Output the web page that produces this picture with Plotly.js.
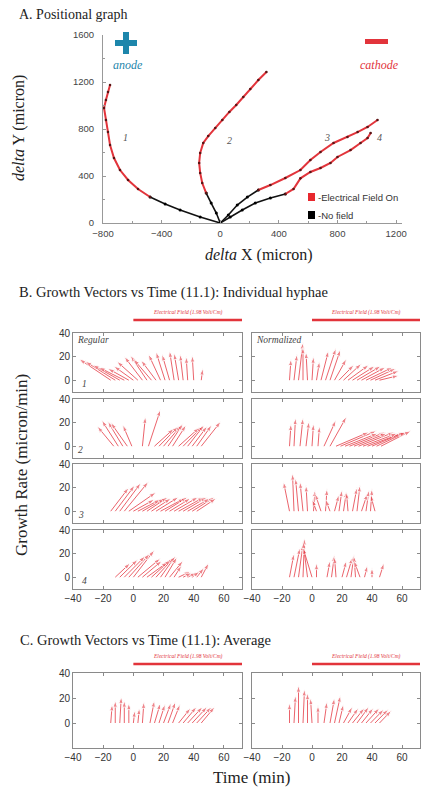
<!DOCTYPE html>
<html><head><meta charset="utf-8">
<script src="https://cdn.plot.ly/plotly-3.0.1.min.js"></script>
<style>html,body{margin:0;padding:0;background:#fff}#plot{width:422px;height:791px}</style>
</head><body><div id="plot"></div>
<script>
// ---------- Panel A: trajectories (micron) ----------
const line1X = [0,-137,-274,-376,-479,-561,-629,-684,-725,-752,-766,-780,-793,-780,-766,-752];
const line1Y = [0,51,111,162,221,289,366,451,553,664,774,877,979,1047,1115,1174];
const line1FieldStart = 4;
const line2X = [0,-27,-62,-96,-123,-137,-144,-137,-116,-82,-34,14,62,109,157,205,260,315];
const line2Y = [0,85,170,255,340,426,511,596,681,740,809,877,945,1004,1072,1140,1217,1285];
const line2FieldStart = 3;
const line3X = [0,55,116,185,260,342,444,547,615,684,773,868,937,1005,1073];
const line3Y = [0,68,153,221,281,323,383,451,536,604,681,732,774,817,877];
const line3FieldStart = 4;
const line4X = [0,68,150,239,342,444,500,547,615,684,752,800,889,957,1005,1026];
const line4Y = [0,51,111,170,213,247,290,380,434,468,511,562,621,681,723,766];
const line4FieldStart = 5;

// ---------- Panel B: growth vectors (time min, dx, dy micron/min) ----------
const r1RegT = [-15,-12,-9,-6,-3,0,3,6,9,12,15,18,21,24,27,30,33,36,40,45];
const r1RegU = [-21,-20,-18,-17,-14,-13,-14,-12,-11,-12,-10,-8,-6,-5,-3,-3,-2,-1,-1,1];
const r1RegV = [18,16,13,11,10,12,16,20,21,18,17,22,24,22,25,23,22,20,21,10];
const r1NorT = [-15,-12,-9,-6,-3,0,3,6,9,12,15,18,21,24,27,30,33,36,39,42,45];
const r1NorU = [1,2,3,0,-1,1,2,5,7,7,8,10,12,14,15,16,16,18,17,16,13];
const r1NorV = [18,22,32,28,24,20,16,25,27,26,18,13,14,13,12,12,11,11,10,8,4];

const r2RegT = [-13,-10,-7,-4,-1,6,10,14,17,20,23,26,30,33,36,39,42,45];
const r2RegU = [-11,-11,-10,-11,-6,2,8,13,13,12,10,9,14,13,11,10,10,13];
const r2RegV = [17,22,21,20,18,25,31,15,17,18,19,18,16,17,18,17,18,21];
const r2NorT = [-15,-12,-8,-4,0,4,8,12,16,19,22,25,28,31,34,37,40,43,46];
const r2NorU = [1,1,2,2,1,1,8,11,22,24,22,24,22,24,23,25,22,20,20];
const r2NorV = [19,24,24,21,19,17,22,25,12,13,11,12,11,12,11,12,12,12,13];

const r3RegT = [-15,-12,-9,-6,-3,0,3,6,9,12,15,18,21,24,27,30,33,36,39,42];
const r3RegU = [12,13,14,16,18,14,15,15,14,13,15,16,15,14,16,17,16,15,15,13];
const r3RegV = [20,22,24,25,16,10,10,11,12,11,12,11,12,11,12,12,12,11,12,11];
const r3NorT = [-15,-12,-9,-6,-3,1,3,6,9,12,15,18,21,24,27,30,33,36,39,42];
const r3NorU = [-4,-1,-2,-2,-1,1,-3,-4,1,-3,3,2,2,-1,3,2,4,2,1,-3];
const r3NorV = [25,32,28,25,22,18,10,15,19,10,14,18,17,16,20,22,15,18,19,14];

const r4RegT = [-12,-9,-6,-3,0,3,6,9,12,15,18,21,24,27,30,33,36,39,42,45];
const r4RegU = [10,12,14,14,14,15,13,14,13,12,10,8,9,5,8,6,6,5,5,5];
const r4RegV = [12,15,18,20,23,16,14,13,15,17,18,17,14,10,5,4,4,5,8,12];
const r4NorT = [-15,-12,-9,-6,-3,0,3,10,13,16,20,23,26,29,32,35,40,45];
const r4NorU = [3,4,3,1,-3,-6,0,2,2,-1,3,4,2,-1,-4,2,0,3];
const r4NorV = [20,25,28,33,30,25,12,14,19,17,14,17,19,18,14,10,8,12];

// ---------- Panel C: average growth vectors ----------
const avgRegT = [-15,-12,-9,-6,-3,0,3,6,11,14,17,20,23,26,30,33,36,39,42,45];
const avgRegU = [1,0,1,0,0,1,1,1,3,4,4,5,5,5,8,9,10,10,10,9];
const avgRegV = [15,18,21,18,16,10,12,17,18,16,15,16,17,15,12,13,13,13,13,13];
const avgNorT = [-15,-12,-9,-6,-3,0,4,8,12,15,18,21,24,27,30,33,36,39,42,45];
const avgNorU = [0,1,0,1,0,-1,0,2,3,4,3,6,7,8,8,8,9,9,9,8];
const avgNorV = [16,22,30,27,24,20,14,17,20,22,15,13,12,12,13,12,12,11,11,10];

const timeTicks = [-40,-20,0,20,40,60];
const rateTicks = [0,20,40];
const fieldStart = 0;
const fieldEnd = 72;

// ---------- helpers ----------
const W = 422, H = 791;
const fx = p => p / W, fy = p => 1 - p / H;
const RED = '#e2343b', BLUE = '#1d86ab';
const ARROW = 'rgba(228,50,60,0.85)';
const SERIF = 'Liberation Serif, Times New Roman, serif';
const SANS = 'Liberation Sans, Arial, sans-serif';

const traces = [];
function addLine(X, Y, split) {
  traces.push({type:'scatter', mode:'lines+markers', x:X.slice(0, split+1), y:Y.slice(0, split+1),
    xaxis:'x', yaxis:'y', line:{color:'#111', width:1.6}, marker:{color:'#000', size:3},
    showlegend:false, hoverinfo:'skip'});
  traces.push({type:'scatter', mode:'lines+markers', x:X.slice(split), y:Y.slice(split),
    xaxis:'x', yaxis:'y', line:{color:RED, width:2}, marker:{color:'#5a1414', size:2.6},
    showlegend:false, hoverinfo:'skip'});
}
addLine(line1X, line1Y, line1FieldStart);
addLine(line2X, line2Y, line2FieldStart);
addLine(line3X, line3Y, line3FieldStart);
addLine(line4X, line4Y, line4FieldStart);

function addArrows(T, U, V, n) {
  const x = [], y = [], size = [];
  for (let i = 0; i < T.length; i++) {
    x.push(T[i], T[i] + U[i], null);
    y.push(0, V[i], null);
    size.push(0, 7, 0);
  }
  traces.push({type:'scatter', mode:'lines+markers', x, y, xaxis:'x'+n, yaxis:'y'+n,
    line:{color:ARROW, width:0.9}, connectgaps:false,
    marker:{symbol:'arrow', angleref:'previous', size, color:ARROW},
    showlegend:false, hoverinfo:'skip'});
}
const panels = [
  [r1RegT,r1RegU,r1RegV],[r1NorT,r1NorU,r1NorV],
  [r2RegT,r2RegU,r2RegV],[r2NorT,r2NorU,r2NorV],
  [r3RegT,r3RegU,r3RegV],[r3NorT,r3NorU,r3NorV],
  [r4RegT,r4RegU,r4RegV],[r4NorT,r4NorU,r4NorV],
  [avgRegT,avgRegU,avgRegV],[avgNorT,avgNorU,avgNorV]
];
panels.forEach((p, k) => addArrows(p[0], p[1], p[2], k + 2));

const layout = {
  width: W, height: H, margin:{l:0,r:0,t:0,b:0},
  paper_bgcolor:'#fff', plot_bgcolor:'#fff', showlegend:false,
  font:{family:SANS, color:'#333'},
  xaxis:{domain:[fx(103), fx(402)], anchor:'y', range:[-800,1240], tickmode:'linear', tick0:-800, dtick:400,
    showline:true, linecolor:'#999', linewidth:1, ticks:'inside', ticklen:3, tickcolor:'#999',
    minor:{dtick:200, ticks:'inside', ticklen:2, tickcolor:'#999'}, ticklabelstandoff:2,
    showgrid:false, zeroline:false, tickfont:{size:9.5, color:'#444', family:SANS}},
  yaxis:{domain:[fy(223), fy(35)], anchor:'x', range:[0,1600], tickmode:'linear', tick0:0, dtick:400,
    showline:true, linecolor:'#999', linewidth:1, ticks:'inside', ticklen:3, tickcolor:'#999',
    minor:{dtick:200, ticks:'inside', ticklen:2, tickcolor:'#999'}, ticklabelstandoff:6,
    showgrid:false, zeroline:false, tickfont:{size:9.5, color:'#444', family:SANS}},
  shapes: [], annotations: []
};

const rowsPx = [[333,392],[399,458],[464,523],[530,589],[673,748]];
const colsPx = [[73,242],[252,420]];
for (let k = 0; k < 10; k++) {
  const n = k + 2, row = Math.floor(k / 2), col = k % 2;
  const rp = rowsPx[row], cp = colsPx[col];
  const isC = row === 4;
  layout['xaxis'+n] = {domain:[fx(cp[0]), fx(cp[1])], anchor:'y'+n, range:[-40,fieldEnd],
    tickvals:timeTicks, showticklabels:(row >= 3), showline:true, mirror:'ticks', linecolor:'#8a8a8a',
    linewidth:1, ticks:'inside', ticklen:3, tickcolor:'#8a8a8a', showgrid:false, zeroline:false,
    tickfont:{size:10, color:'#333', family:SANS}};
  layout['yaxis'+n] = {domain:[fy(rp[1]), fy(rp[0])], anchor:'x'+n, range:isC ? [-20,40] : [-10,40],
    tickvals:rateTicks, showticklabels:(col === 0), showline:true, mirror:'ticks', linecolor:'#8a8a8a',
    linewidth:1, ticks:'inside', ticklen:3, tickcolor:'#8a8a8a', showgrid:false, zeroline:false,
    tickfont:{size:10, color:'#333', family:SANS}};
}

// Electrical field bars
const fieldBars = [[2, 320, 312], [3, 320, 312], [10, 664, 656], [11, 664, 656]];
fieldBars.forEach(([n, yb, yt]) => {
  layout.shapes.push({type:'line', xref:'x'+n, yref:'paper', x0:fieldStart, x1:fieldEnd, y0:fy(yb), y1:fy(yb),
    line:{color:RED, width:2.5}});
  layout.annotations.push({xref:'x'+n, yref:'paper', x:(fieldStart+fieldEnd)/2, y:fy(yt), showarrow:false,
    xanchor:'center', yanchor:'middle',
    text:'<i>Electrical Field (1.98 Volt/Cm)</i>', font:{family:SERIF, size:5.5, color:RED}});
});

// plus / minus signs
layout.shapes.push({type:'rect', xref:'paper', yref:'paper', x0:fx(115), x1:fx(137), y0:fy(46), y1:fy(40), fillcolor:BLUE, line:{width:0}});
layout.shapes.push({type:'rect', xref:'paper', yref:'paper', x0:fx(123), x1:fx(129), y0:fy(54), y1:fy(32), fillcolor:BLUE, line:{width:0}});
layout.shapes.push({type:'rect', xref:'paper', yref:'paper', x0:fx(365), x1:fx(388), y0:fy(44), y1:fy(39), fillcolor:RED, line:{width:0}});
// legend squares
layout.shapes.push({type:'rect', xref:'paper', yref:'paper', x0:fx(308), x1:fx(315), y0:fy(201), y1:fy(193), fillcolor:'#e8282e', line:{width:0}});
layout.shapes.push({type:'rect', xref:'paper', yref:'paper', x0:fx(308), x1:fx(315), y0:fy(219), y1:fy(211), fillcolor:'#000', line:{width:0}});

const ann = (x, y, text, size, opts={}) => layout.annotations.push(Object.assign({
  xref:'paper', yref:'paper', x:fx(x), y:fy(y), text, showarrow:false, xanchor:'center', yanchor:'middle',
  font:{family:SERIF, size, color:'#222'}}, opts));

ann(17, 14, 'A. Positional graph', 14, {xanchor:'left'});
ann(17, 292, 'B. Growth Vectors vs Time (11.1): Individual hyphae', 14.5, {xanchor:'left'});
ann(18, 640, 'C. Growth Vectors vs Time (11.1): Average', 14.5, {xanchor:'left'});
ann(259, 255, '<i>delta</i> X (micron)', 16);
ann(19, 128, '<i>delta</i> Y (micron)', 16, {textangle:-90});
ann(22, 465, 'Growth Rate (micron/min)', 17, {textangle:-90});
ann(251, 777, 'Time (min)', 17);
ann(128, 65, '<i>anode</i>', 12, {font:{family:SERIF, size:12, color:BLUE}});
ann(379, 65, '<i>cathode</i>', 12, {font:{family:SERIF, size:12, color:RED}});
ann(125, 137, '<i>1</i>', 10, {font:{family:SERIF, size:10, color:'#555'}});
ann(229, 140, '<i>2</i>', 10, {font:{family:SERIF, size:10, color:'#555'}});
ann(327, 137, '<i>3</i>', 10, {font:{family:SERIF, size:10, color:'#555'}});
ann(379, 138, '<i>4</i>', 10, {font:{family:SERIF, size:10, color:'#555'}});
ann(316, 197, '-Electrical Field On', 9.5, {xanchor:'left', font:{family:SANS, size:9.5, color:'#333'}});
ann(316, 215, '-No field', 9.5, {xanchor:'left', font:{family:SANS, size:9.5, color:'#333'}});

// in-panel labels
const inPanel = (n, x, y, text, xanchor, yanchor) => layout.annotations.push({
  xref:'x'+n+' domain', yref:'y'+n+' domain', x, y, text, showarrow:false, xanchor, yanchor,
  font:{family:SERIF, size:9.5, color:'#444'}});
inPanel(2, 0.01, 1.0, '<i>Regular</i>', 'left', 'top');
inPanel(3, 0.01, 1.0, '<i>Normalized</i>', 'left', 'top');
inPanel(2, 0.04, 0.02, '<i>1</i>', 'left', 'bottom');
inPanel(4, 0.02, 0.02, '<i>2</i>', 'left', 'bottom');
inPanel(6, 0.02, 0.02, '<i>3</i>', 'left', 'bottom');
inPanel(8, 0.04, 0.02, '<i>4</i>', 'left', 'bottom');

Plotly.newPlot('plot', traces, layout, {staticPlot:true, displayModeBar:false});
</script></body></html>
